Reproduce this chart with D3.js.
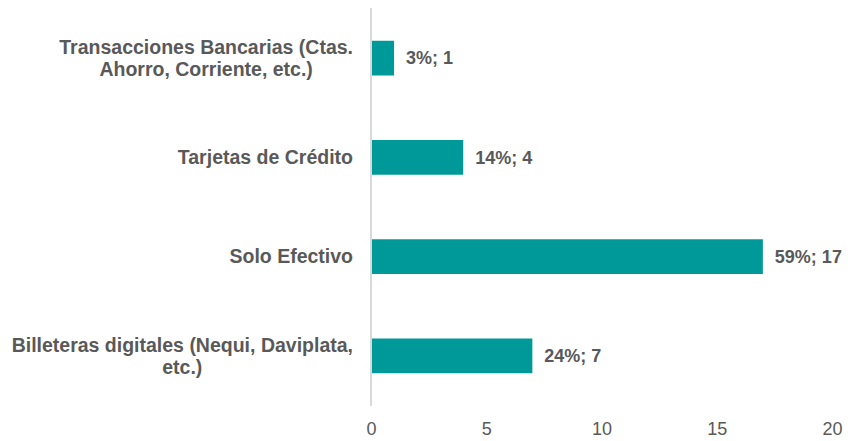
<!DOCTYPE html>
<html>
<head>
<meta charset="utf-8">
<script src="https://cdn.jsdelivr.net/npm/d3@7"></script>
<style>
  body { margin: 0; background: #fff; }
  text { font-family: "Liberation Sans", Arial, sans-serif; }
</style>
</head>
<body>
<div id="chart"></div>
<script>
var width = 851;
var height = 441;

var categories = [
    ["Transacciones Bancarias (Ctas.", "Ahorro, Corriente, etc.)"],
    ["Tarjetas de Crédito"],
    ["Solo Efectivo"],
    ["Billeteras digitales (Nequi, Daviplata,", "etc.)"]
];
var counts = [1, 4, 17, 7];
var percents = ["3%", "14%", "59%", "24%"];
var ticks = [0, 5, 10, 15, 20];

var margin = {top: 8, right: 19, bottom: 35, left: 371};

var svg = d3.select("#chart")
    .append("svg")
    .attr("width", width)
    .attr("height", height);

var x = d3.scaleLinear()
    .domain([0, 20])
    .range([margin.left, width - margin.right]);

var y = d3.scaleBand()
    .domain(d3.range(categories.length))
    .range([margin.top, height - margin.bottom])
    .paddingInner(0.65)
    .paddingOuter(0.33);

// bars
svg.append("g")
    .selectAll("rect")
    .data(counts)
    .enter().append("rect")
    .attr("x", x(0))
    .attr("y", (d, i) => y(i))
    .attr("width", d => x(d) - x(0))
    .attr("height", y.bandwidth())
    .attr("fill", "#009999");

// vertical axis line
svg.append("line")
    .attr("x1", x(0)).attr("x2", x(0))
    .attr("y1", margin.top).attr("y2", height - margin.bottom)
    .attr("stroke", "#d9d9d9")
    .attr("stroke-width", 2);

// x axis tick labels only
var xAxis = d3.axisBottom(x).tickValues(ticks).tickSize(0).tickPadding(16);
var gx = svg.append("g")
    .attr("transform", "translate(0," + (height - margin.bottom) + ")")
    .call(xAxis);
gx.select(".domain").remove();
gx.selectAll("text")
    .attr("fill", "#595959")
    .style("font-size", "18px")
    .style("font-family", "Liberation Sans, Arial, sans-serif");

// category labels (lines centred on each other, block right-aligned)
var lineH = 22;
categories.forEach(function (lines, i) {
    var cy = y(i) + y.bandwidth() / 2;
    var g = svg.append("g");
    var texts = lines.map(function (l, j) {
        return g.append("text")
            .attr("y", cy + (j - (lines.length - 1) / 2) * lineH)
            .attr("dy", "0.35em")
            .attr("text-anchor", "middle")
            .attr("fill", "#595959")
            .style("font-size", "19.5px")
            .style("font-weight", "bold")
            .text(l);
    });
    var w = d3.max(texts, t => t.node().getComputedTextLength());
    var cx = x(0) - 18 - w / 2;
    texts.forEach(t => t.attr("x", cx));
});

// value labels
svg.append("g")
    .selectAll("text")
    .data(counts)
    .enter().append("text")
    .attr("x", d => x(d) + 12)
    .attr("y", (d, i) => y(i) + y.bandwidth() / 2)
    .attr("dy", "0.35em")
    .attr("fill", "#595959")
    .style("font-size", "18px")
    .style("font-weight", "bold")
    .text((d, i) => percents[i] + "; " + d);
</script>
</body>
</html>
